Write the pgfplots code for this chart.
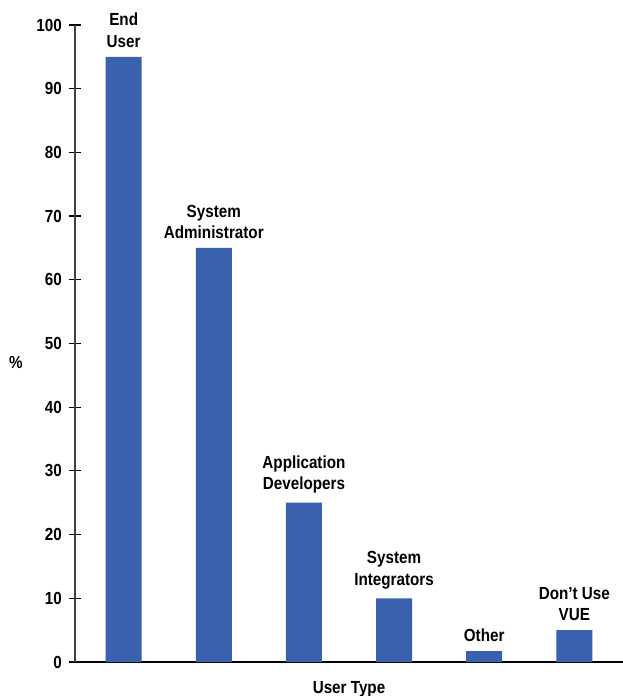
\documentclass[border=0pt]{standalone}
\usepackage{pgfplots}
\pgfplotsset{compat=1.18}
\usepackage{fontspec}
\setmainfont{Liberation Sans}[FakeStretch=0.87]
\definecolor{barblue}{RGB}{58,97,173}
\begin{document}
\begin{tikzpicture}
\begin{axis}[
  scale only axis, width=548pt, height=637pt,
  xmin=-0.54, xmax=5.54, ymin=0, ymax=100,
  axis x line=bottom, axis y line=left,
  x axis line style={-, black, line width=2pt},
  y axis line style={-, black!75, line width=1.4pt},
  xtick=\empty,
  ytick={0,10,...,100},
  tick align=center, major tick length=12pt,
  ytick style={black, line width=1.2pt},
  font=\bfseries\fontsize{17.5}{21.5}\selectfont,
  yticklabel style={/pgf/number format/assume math mode=true, inner sep=0pt, xshift=-7pt, anchor=east},
  xlabel={User Type},
  xlabel style={at={(rel axis cs:0.5,0)}, anchor=north, inner sep=0pt, yshift=-19pt},
  ylabel={\%},
  ylabel style={rotate=-90, at={(rel axis cs:0,0.47)}, anchor=center, xshift=-59pt},
  clip=false,
  ybar, bar width=36pt,
]
\addplot[fill=barblue, draw=none,
  nodes near coords, point meta=explicit symbolic,
  every node near coord/.append style={align=center, anchor=south, inner sep=0pt, yshift=9pt, black}]
  coordinates {
    (0,95) [End\\User]
    (1,65) [System\\Administrator]
    (2,25) [Application\\Developers]
    (3,10) [System\\Integrators]
    (4,1.7) [Other]
    (5,5) [Don’t Use\\VUE]
  };
\end{axis}
\pgfresetboundingbox
\path (-75pt,-34pt) rectangle (548pt,662pt);
\end{tikzpicture}
\end{document}
